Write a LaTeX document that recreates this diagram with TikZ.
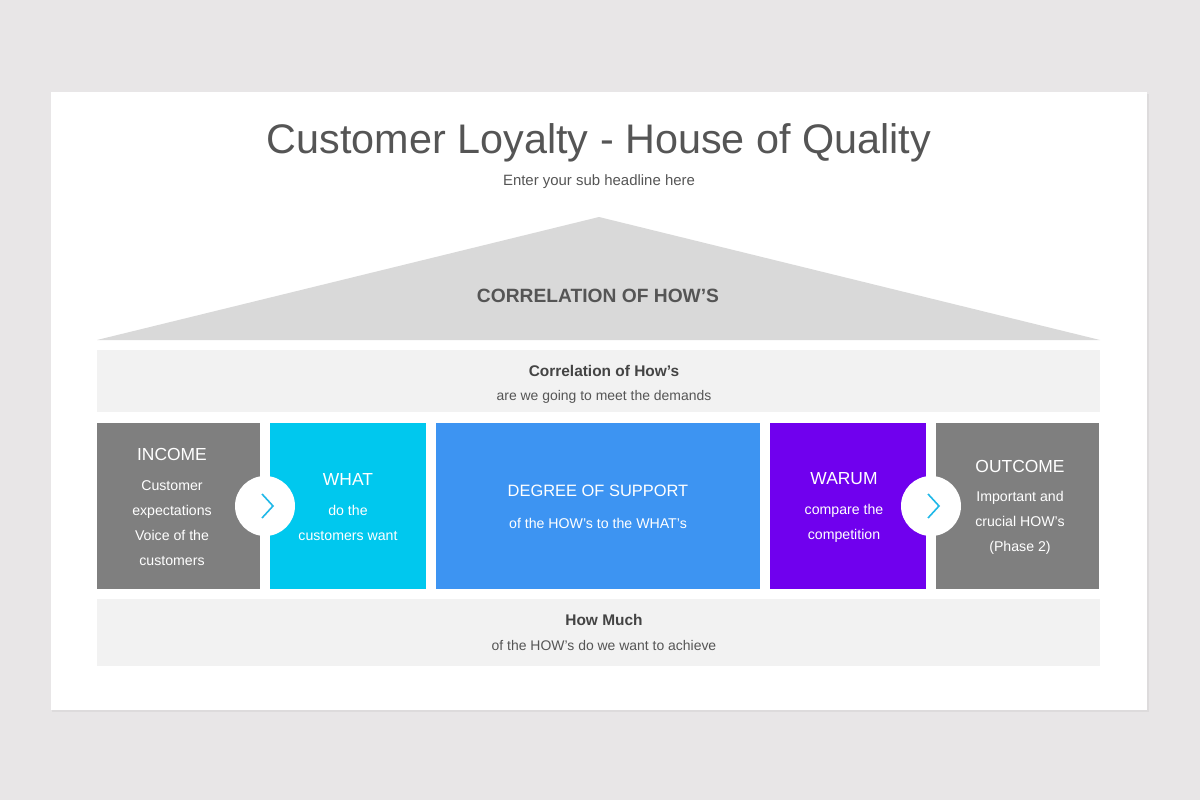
\documentclass[tikz,border=0pt]{standalone}
\usepackage{fontspec}
\setmainfont{Liberation Sans}
\definecolor{bg}{HTML}{E8E6E7}
\definecolor{shadowc}{HTML}{DDDBDC}
\definecolor{roof}{HTML}{D9D9D9}
\definecolor{band}{HTML}{F2F2F2}
\definecolor{txt}{HTML}{555555}
\definecolor{dtxt}{HTML}{444444}
\definecolor{greyb}{HTML}{7F7F7F}
\definecolor{cyanb}{HTML}{00C8EE}
\definecolor{blueb}{HTML}{3D94F2}
\definecolor{purpb}{HTML}{7000EE}
\definecolor{chev}{HTML}{1EB8E8}
\begin{document}
\begin{tikzpicture}[x=1bp,y=-1bp,
  head/.style={text=white,font=\fontsize{17.5}{20}\selectfont},
  body/.style={text=white,font=\fontsize{14.2}{25}\selectfont,align=center},
  bhead/.style={text=dtxt,font=\bfseries\fontsize{15.5}{18}\selectfont},
  bsub/.style={text=txt,font=\fontsize{14}{16}\selectfont},
  circ/.style={circle,fill=white,minimum size=60bp,inner sep=0pt},
  chevline/.style={draw=chev,line width=1.6bp}]
\useasboundingbox (0,0) rectangle (1200,800);
\fill[bg] (0,0) rectangle (1200,800);
\fill[shadowc] (52,94) rectangle (1148.5,711.5);
\fill[white] (51,92) rectangle (1147,710);
% title
\node[text=txt,font=\fontsize{41.5}{44}\selectfont] (title) at (599,143) {Customer Loyalty - House of Quality};
\node[text=txt,font=\fontsize{15}{17}\selectfont] (sub) at (599,182) {Enter your sub headline here};
% roof
\fill[roof] (599,217) -- (1100,340) -- (97,340) -- cycle;
\node[text=txt,font=\bfseries\fontsize{19.3}{21}\selectfont] (roofl) at (598,296) {CORRELATION OF HOW'S};
% top band
\fill[band] (97,350) rectangle (1100,412);
\node[bhead] (b1h) at (604,371) {Correlation of How's};
\node[bsub] (b1s) at (604,397) {are we going to meet the demands};
% boxes
\fill[greyb] (97,423) rectangle (260,589);
\fill[cyanb] (270,423) rectangle (426,589);
\fill[blueb] (436,423) rectangle (760,589);
\fill[purpb] (770,423) rectangle (926,589);
\fill[greyb] (936,423) rectangle (1099,589);
% INCOME
\node[head] (inh) at (172,454) {INCOME};
\node[body] (inb) at (172,523) {Customer\\expectations\\Voice of the\\customers};
% WHAT
\node[head] (wh) at (348,479) {WHAT};
\node[body] (wb) at (348,523) {do the\\customers want};
% DEGREE
\node[head,font=\fontsize{16.5}{20}\selectfont] (dh) at (598,491) {DEGREE OF SUPPORT};
\node[body] (db) at (598,523) {of the HOW's to the WHAT's};
% WARUM
\node[head] (wah) at (844,479) {WARUM};
\node[body] (wab) at (844,523) {compare the\\competition};
% OUTCOME
\node[head] (oh) at (1020,466) {OUTCOME};
\node[body] (ob) at (1020,523) {Important and\\crucial HOW's\\(Phase 2)};
% circles with chevrons
\node[circ] (c1) at (265,506) {};
\node[circ] (c2) at (931,506) {};
\draw[chevline] ([xshift=-3bp,yshift=12bp]c1.center) -- ([xshift=8bp]c1.center) -- ([xshift=-3bp,yshift=-12bp]c1.center);
\draw[chevline] ([xshift=-3bp,yshift=12bp]c2.center) -- ([xshift=8bp]c2.center) -- ([xshift=-3bp,yshift=-12bp]c2.center);
% bottom band
\fill[band] (97,599) rectangle (1100,666);
\node[bhead] (b2h) at (604,620) {How Much};
\node[bsub] (b2s) at (604,646) {of the HOW's do we want to achieve};
\end{tikzpicture}
\end{document}
